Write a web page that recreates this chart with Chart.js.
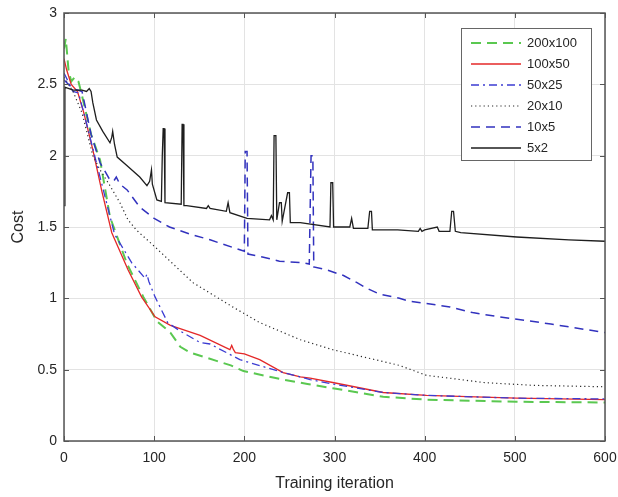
<!DOCTYPE html>
<html>
<head>
<meta charset="utf-8">
<script src="https://cdn.jsdelivr.net/npm/chart.js@4"></script>
<style>
  body { margin: 0; background: #fff; }
  canvas { display: block; }
</style>
</head>
<body>
<canvas id="costChart" width="618" height="497"></canvas>
<script>
// Series names (legend order)
const seriesNames = ['200x100', '100x50', '50x25', '20x10', '10x5', '5x2'];

// Cost curves: iteration / cost pairs
const x200 = [0, 2, 5, 8, 12, 16, 20, 30, 40, 51, 70, 88, 103, 118, 129, 140, 170, 185, 199, 243, 270, 298, 354, 402, 502, 600];
const y200 = [2.75, 2.82, 2.6, 2.52, 2.55, 2.52, 2.42, 2.15, 1.97, 1.57, 1.24, 1.01, 0.84, 0.76, 0.66, 0.62, 0.56, 0.53, 0.49, 0.43, 0.40, 0.37, 0.31, 0.29, 0.275, 0.27];

const x100 = [0, 3, 8, 15, 22, 32, 42, 53, 62, 71, 86, 101, 118, 151, 184, 186, 188, 190, 200, 217, 243, 262, 273, 298, 354, 402, 502, 600];
const y100 = [2.68, 2.6, 2.5, 2.45, 2.3, 2.04, 1.75, 1.46, 1.33, 1.2, 1.01, 0.87, 0.81, 0.74, 0.64, 0.67, 0.64, 0.62, 0.61, 0.57, 0.48, 0.45, 0.44, 0.41, 0.34, 0.32, 0.30, 0.29];

const x50 = [0, 10, 16, 22, 32, 42, 56, 75, 90, 92, 94, 101, 115, 129, 151, 162, 195, 243, 262, 273, 298, 354, 402, 502, 600];
const y50 = [2.58, 2.45, 2.44, 2.3, 2.05, 1.8, 1.45, 1.25, 1.14, 1.17, 1.12, 1.01, 0.83, 0.77, 0.69, 0.68, 0.57, 0.48, 0.45, 0.43, 0.40, 0.34, 0.32, 0.30, 0.295];

const x20 = [0, 10, 20, 32, 40, 50, 62, 71, 80, 101, 143, 187, 217, 262, 298, 372, 402, 428, 465, 520, 600];
const y20 = [2.55, 2.45, 2.3, 2.0, 1.9, 1.8, 1.67, 1.55, 1.48, 1.36, 1.11, 0.94, 0.83, 0.71, 0.64, 0.53, 0.46, 0.44, 0.41, 0.39, 0.38];

const x10 = [0, 10, 20, 25, 30, 40, 50, 55, 58, 62, 70, 84, 100, 117, 140, 162, 195, 200, 201, 203, 204, 220, 239, 265, 272, 274, 276, 277, 291, 310, 325, 336, 350, 372, 383, 428, 453, 483, 540, 600];
const y10 = [2.53, 2.47, 2.45, 2.3, 2.15, 1.95, 1.84, 1.82, 1.85, 1.8, 1.76, 1.64, 1.56, 1.5, 1.45, 1.41, 1.34, 1.33, 2.03, 2.03, 1.31, 1.29, 1.26, 1.25, 1.24, 2.0, 2.0, 1.22, 1.2, 1.16, 1.11, 1.07, 1.03, 1.0, 0.98, 0.94, 0.90, 0.87, 0.82, 0.76];

const x5 = [0, 1, 10, 20, 25, 28, 30, 32, 36, 43, 51, 53, 54, 56, 59, 70, 84, 92, 95, 97, 98, 103, 108, 109, 110, 111, 112, 130, 131, 132, 133, 136, 158, 160, 162, 180, 182, 184, 203, 228, 230, 232, 233, 235, 236, 239, 241, 242, 248, 250, 251, 262, 295, 296, 298, 299, 317, 319, 321, 337, 339, 341, 342, 370, 393, 395, 397, 400, 414, 416, 428, 430, 432, 434, 440, 502, 560, 600];
const y5 = [1.65, 2.48, 2.46, 2.46, 2.45, 2.47, 2.45, 2.37, 2.25, 2.17, 2.09, 2.13, 2.17, 2.08, 1.99, 1.93, 1.85, 1.79, 1.82, 1.9, 1.8, 1.69, 1.68, 2.0, 2.19, 2.19, 1.67, 1.66, 2.22, 2.22, 1.65, 1.65, 1.63, 1.65, 1.63, 1.61, 1.67, 1.6, 1.56, 1.55, 1.58, 1.55, 2.14, 2.14, 1.55, 1.67, 1.67, 1.54, 1.74, 1.74, 1.53, 1.53, 1.5, 1.81, 1.81, 1.5, 1.5, 1.56, 1.49, 1.49, 1.61, 1.61, 1.48, 1.48, 1.47, 1.49, 1.47, 1.48, 1.5, 1.47, 1.47, 1.61, 1.61, 1.47, 1.46, 1.43, 1.41, 1.40];

// Axis ticks
const xTicks = [0, 100, 200, 300, 400, 500, 600];
const yTicks = [0, 0.5, 1, 1.5, 2, 2.5, 3];

function pairs(xs, ys) {
    return xs.map(function(x, i) { return { x: x, y: ys[i] }; });
}

const styles = [
    { color: 'rgb(90,200,80)', width: 2, dash: [10, 6] },
    { color: 'rgb(228,40,40)', width: 1.3, dash: [] },
    { color: 'rgb(60,60,210)', width: 1.3, dash: [8, 4, 2, 4] },
    { color: 'rgb(40,40,40)', width: 1.2, dash: [1.2, 3] },
    { color: 'rgb(50,50,190)', width: 1.5, dash: [9, 6] },
    { color: 'rgb(30,30,30)', width: 1.3, dash: [] }
];

const seriesData = [pairs(x200, y200), pairs(x100, y100), pairs(x50, y50), pairs(x20, y20), pairs(x10, y10), pairs(x5, y5)];

// Draw the datasets in reverse so 200x100 sits on top
const datasets = seriesNames.map(function(name, i) {
    return {
        label: name,
        data: seriesData[i],
        borderColor: styles[i].color,
        borderWidth: styles[i].width,
        borderDash: styles[i].dash,
        pointRadius: 0,
        tension: 0,
        fill: false,
        order: 5 - i
    };
});

const axisColor = '#262626';
const fontFamily = '"Liberation Sans", Arial, sans-serif';

// MATLAB-style box, inward ticks and the legend
const boxPlugin = {
    id: 'boxPlugin',
    afterDraw: function(chart) {
        const c = chart.ctx;
        const a = chart.chartArea;
        const xs = chart.scales.x, ys = chart.scales.y;
        c.save();
        c.strokeStyle = '#555';
        c.lineWidth = 1.5;
        c.strokeRect(a.left, a.top, a.right - a.left, a.bottom - a.top);
        c.lineWidth = 1;
        c.beginPath();
        xTicks.forEach(function(t) {
            const px = Math.round(xs.getPixelForValue(t)) + 0.5;
            c.moveTo(px, a.bottom); c.lineTo(px, a.bottom - 5);
            c.moveTo(px, a.top); c.lineTo(px, a.top + 5);
        });
        yTicks.forEach(function(t) {
            const py = Math.round(ys.getPixelForValue(t)) + 0.5;
            c.moveTo(a.left, py); c.lineTo(a.left + 5, py);
            c.moveTo(a.right, py); c.lineTo(a.right - 5, py);
        });
        c.stroke();

        // legend
        const lx = 461, ly = 28, lw = 130, lh = 132;
        c.fillStyle = '#fff';
        c.fillRect(lx, ly, lw, lh);
        c.strokeStyle = '#666';
        c.lineWidth = 1;
        c.strokeRect(lx + 0.5, ly + 0.5, lw, lh);
        c.font = '13px ' + fontFamily;
        c.textBaseline = 'middle';
        seriesNames.forEach(function(name, i) {
            const y = ly + 15 + i * 21;
            c.strokeStyle = styles[i].color;
            c.lineWidth = styles[i].width;
            c.setLineDash(styles[i].dash);
            c.beginPath();
            c.moveTo(lx + 10, y); c.lineTo(lx + 60, y);
            c.stroke();
            c.setLineDash([]);
            c.fillStyle = axisColor;
            c.fillText(name, lx + 66, y);
        });
        c.restore();
    }
};

const ctx = document.getElementById('costChart').getContext('2d');
new Chart(ctx, {
    type: 'line',
    data: { datasets: datasets },
    options: {
        responsive: false,
        animation: false,
        layout: { padding: { top: 13, right: 13, left: 0, bottom: 0 } },
        plugins: {
            legend: { display: false },
            tooltip: { enabled: false }
        },
        scales: {
            x: {
                type: 'linear',
                min: 0,
                max: 600,
                afterBuildTicks: function(s) { s.ticks = xTicks.map(function(v) { return { value: v }; }); },
                afterFit: function(s) { s.height = 56; s.paddingLeft = 0; s.paddingRight = 0; },
                grid: { color: '#e3e3e3', drawTicks: false },
                border: { display: false },
                ticks: { color: axisColor, padding: 9, maxRotation: 0, font: { size: 14, family: fontFamily } },
                title: { display: true, text: 'Training iteration', color: axisColor, padding: { top: 0, bottom: 4 }, font: { size: 16, family: fontFamily } }
            },
            y: {
                min: 0,
                max: 3,
                afterBuildTicks: function(s) { s.ticks = yTicks.map(function(v) { return { value: v }; }); },
                afterFit: function(s) { s.width = 64; s.paddingTop = 0; s.paddingBottom = 0; },
                grid: { color: '#e3e3e3', drawTicks: false },
                border: { display: false },
                ticks: {
                    color: axisColor, padding: 7, font: { size: 14, family: fontFamily },
                    callback: function(v) { return String(v); }
                },
                title: { display: true, text: 'Cost', color: axisColor, padding: { top: 9, bottom: 0 }, font: { size: 16, family: fontFamily } }
            }
        }
    },
    plugins: [boxPlugin]
});
</script>
</body>
</html>
